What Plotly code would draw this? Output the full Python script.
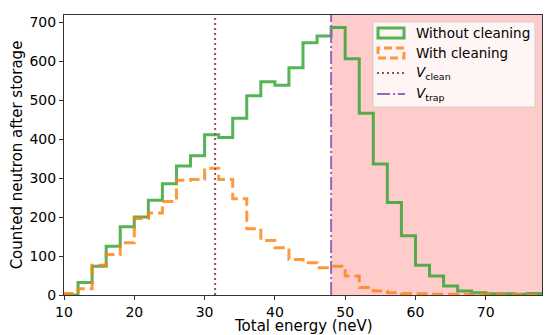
import plotly.graph_objects as go

# histogram bins (neV) and counts
bin_edges = list(range(10, 80, 2))
without_cleaning = [0, 32, 74, 125, 175, 200, 243, 285, 331, 357, 411, 404, 453, 511, 547, 538, 583,
                    647, 664, 686, 606, 466, 336, 237, 152, 76, 49, 23, 10, 6, 3, 3, 2, 4]
with_cleaning = [4, 16, 76, 104, 134, 196, 210, 240, 294, 296, 325, 296, 247, 170, 140, 121, 91,
                 83, 70, 74, 49, 19, 10, 6, 4, 3, 2, 2, 1, 1, 1, 0, 1, 0]
v_clean = 31.5
v_trap = 48
x_ticks = [10, 20, 30, 40, 50, 60, 70]
y_ticks = [0, 100, 200, 300, 400, 500, 600, 700]
legend_labels = ['Without cleaning', 'With cleaning',
                 '<i>V</i><sub>clean</sub>', '<i>V</i><sub>trap</sub>']

# the page body has an 8px margin, so the figure is made smaller and shifted
OFF = 8
W, H = 557 - OFF, 335 - OFF
L, R, T, B = 64 - OFF, 15, 15 - OFF, 40
PW, PH = W - L - R, H - T - B

green = 'rgba(44,160,44,0.8)'
orange = 'rgba(255,127,14,0.8)'
brown = '#8c564b'
purple = '#9467bd'


# window pixel -> paper coordinate
def px(x):
    return (x - OFF - L) / PW


def py(y):
    return (H + OFF - B - y) / PH


def step_xy(edges, counts):
    x = [edges[0]] + edges[:-1] + [edges[-1], edges[-1]]
    y = [0] + counts + [counts[-1], 0]
    return x, y


fig = go.Figure()

fig.add_vrect(x0=v_trap, x1=bin_edges[-1], fillcolor='rgba(255,0,0,0.2)', line_width=0, layer='below')

gx, gy = step_xy(bin_edges, without_cleaning)
fig.add_trace(go.Scatter(x=gx, y=gy, mode='lines', line_shape='hv', showlegend=False,
                         line=dict(color=green, width=3)))
ox, oy = step_xy(bin_edges, with_cleaning)
fig.add_trace(go.Scatter(x=ox, y=oy, mode='lines', line_shape='hv', showlegend=False,
                         line=dict(color=orange, width=3, dash='11px,5px')))
fig.add_trace(go.Scatter(x=[v_clean, v_clean], y=[0, 1], yaxis='y2', mode='lines', showlegend=False,
                         line=dict(color=brown, width=2, dash='2px,3px')))
fig.add_trace(go.Scatter(x=[v_trap, v_trap], y=[0, 1], yaxis='y2', mode='lines', showlegend=False,
                         line=dict(color=purple, width=2, dash='13px,3px,2px,3px')))

# legend drawn by hand so the histogram handles are boxes as in the original
fig.add_shape(type='rect', xref='paper', yref='paper', x0=px(373), x1=px(535), y0=py(107), y1=py(22),
              fillcolor='rgba(255,255,255,0.8)', line=dict(color='#d0d0d0', width=1))
fig.add_shape(type='rect', xref='paper', yref='paper', x0=px(378), x1=px(404), y0=py(38), y1=py(28),
              line=dict(color=green, width=3))
fig.add_shape(type='rect', xref='paper', yref='paper', x0=px(378), x1=px(404), y0=py(58), y1=py(48),
              line=dict(color=orange, width=3, dash='8px,4px'))
fig.add_shape(type='line', xref='paper', yref='paper', x0=px(377), x1=px(405), y0=py(73), y1=py(73),
              line=dict(color=brown, width=2, dash='2px,3px'))
fig.add_shape(type='line', xref='paper', yref='paper', x0=px(377), x1=px(405), y0=py(94), y1=py(94),
              line=dict(color=purple, width=2, dash='13px,3px,2px,3px'))
for label, ty in zip(legend_labels, [33, 53, 73, 94]):
    fig.add_annotation(text=label, xref='paper', yref='paper', x=px(414), y=py(ty),
                       xanchor='left', yanchor='middle', showarrow=False,
                       font=dict(size=13.5, color='black'))

# x axis title as an annotation so it can sit a bit lower
fig.add_annotation(text='Total energy (neV)', xref='paper', yref='paper', x=0.5, y=py(326),
                   xanchor='center', yanchor='middle', showarrow=False,
                   font=dict(size=15, color='black'))

axis_style = dict(showline=True, linecolor='#333333', linewidth=1, mirror=True, ticks='outside',
                  ticklen=4, tickwidth=1, tickcolor='#333333', showgrid=False, zeroline=False,
                  automargin=False, tickfont=dict(size=14, color='black'))

fig.update_layout(
    width=W, height=H,
    margin=dict(l=L, r=R, t=T, b=B),
    plot_bgcolor='white', paper_bgcolor='white',
    font=dict(family='DejaVu Sans', color='black'),
    xaxis=dict(range=[10, 78], tickvals=x_ticks, **axis_style),
    yaxis=dict(range=[0, 718], tickvals=y_ticks,
               title=dict(text='Counted neutron after storage', font=dict(size=15)), **axis_style),
    yaxis2=dict(range=[0, 1], overlaying='y', visible=False),
    showlegend=False,
)

fig.write_html("out.html")
